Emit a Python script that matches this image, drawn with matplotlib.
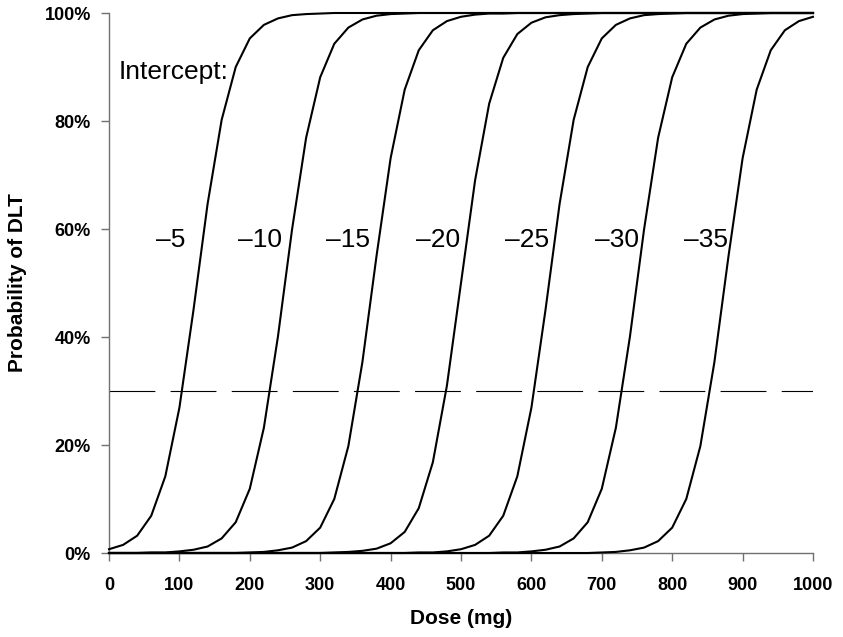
import matplotlib
matplotlib.use("Agg")
import matplotlib.pyplot as plt

plt.rcParams['font.family'] = ['Liberation Sans', 'DejaVu Sans']
plt.rcParams['lines.scale_dashes'] = False

# ---- data -------------------------------------------------------------
doses = [0, 20, 40, 60, 80, 100, 120, 140, 160, 180, 200, 220, 240, 260, 280,
         300, 320, 340, 360, 380, 400, 420, 440, 460, 480, 500, 520, 540, 560,
         580, 600, 620, 640, 660, 680, 700, 720, 740, 760, 780, 800, 820, 840,
         860, 880, 900, 920, 940, 960, 980, 1000]

intercept_labels = ["\u20135", "\u201310", "\u201315", "\u201320", "\u201325", "\u201330", "\u201335"]

p_m5 = [0.7, 1.5, 3.2, 6.9, 14.2, 26.9, 45.0, 64.6, 80.2, 90.0, 95.3, 97.8, 99.0,
        99.6, 99.8, 99.9, 100, 100, 100, 100, 100, 100, 100, 100, 100, 100, 100,
        100, 100, 100, 100, 100, 100, 100, 100, 100, 100, 100, 100, 100, 100, 100,
        100, 100, 100, 100, 100, 100, 100, 100, 100]
p_m10 = [0, 0, 0, 0.1, 0.1, 0.3, 0.6, 1.2, 2.7, 5.7, 11.9, 23.2, 40.1, 59.9, 76.9,
         88.1, 94.3, 97.3, 98.8, 99.5, 99.8, 99.9, 100, 100, 100, 100, 100, 100,
         100, 100, 100, 100, 100, 100, 100, 100, 100, 100, 100, 100, 100, 100,
         100, 100, 100, 100, 100, 100, 100, 100, 100]
p_m15 = [0, 0, 0, 0, 0, 0, 0, 0, 0, 0, 0.1, 0.2, 0.5, 1.0, 2.2, 4.7, 10.0, 19.8,
         35.4, 55.0, 73.1, 85.8, 93.1, 96.8, 98.5, 99.3, 99.7, 99.9, 99.9, 100,
         100, 100, 100, 100, 100, 100, 100, 100, 100, 100, 100, 100, 100, 100,
         100, 100, 100, 100, 100, 100, 100]
p_m20 = [0, 0, 0, 0, 0, 0, 0, 0, 0, 0, 0, 0, 0, 0, 0, 0, 0.1, 0.2, 0.4, 0.8, 1.8,
         3.9, 8.3, 16.8, 31.0, 50.0, 69.0, 83.2, 91.7, 96.1, 98.2, 99.2, 99.6,
         99.8, 99.9, 100, 100, 100, 100, 100, 100, 100, 100, 100, 100, 100, 100,
         100, 100, 100, 100]
p_m25 = [0, 0, 0, 0, 0, 0, 0, 0, 0, 0, 0, 0, 0, 0, 0, 0, 0, 0, 0, 0, 0, 0, 0.1,
         0.1, 0.3, 0.7, 1.5, 3.2, 6.9, 14.2, 26.9, 45.0, 64.6, 80.2, 90.0, 95.3,
         97.8, 99.0, 99.6, 99.8, 99.9, 100, 100, 100, 100, 100, 100, 100, 100,
         100, 100]
p_m30 = [0, 0, 0, 0, 0, 0, 0, 0, 0, 0, 0, 0, 0, 0, 0, 0, 0, 0, 0, 0, 0, 0, 0, 0,
         0, 0, 0, 0, 0.1, 0.1, 0.3, 0.6, 1.2, 2.7, 5.7, 11.9, 23.2, 40.1, 59.9,
         76.9, 88.1, 94.3, 97.3, 98.8, 99.5, 99.8, 99.9, 100, 100, 100, 100]
p_m35 = [0, 0, 0, 0, 0, 0, 0, 0, 0, 0, 0, 0, 0, 0, 0, 0, 0, 0, 0, 0, 0, 0, 0, 0,
         0, 0, 0, 0, 0, 0, 0, 0, 0, 0, 0, 0.1, 0.2, 0.5, 1.0, 2.2, 4.7, 10.0, 19.8,
         35.4, 55.0, 73.1, 85.8, 93.1, 96.8, 98.5, 99.3]

curves = [p_m5, p_m10, p_m15, p_m20, p_m25, p_m30, p_m35]

target_level = 30  # % reference line

x_ticks = [0, 100, 200, 300, 400, 500, 600, 700, 800, 900, 1000]
y_ticks = [0, 20, 40, 60, 80, 100]
y_tick_labels = ["0%", "20%", "40%", "60%", "80%", "100%"]

# label placement (dose, %)
label_x = [88, 214, 340, 467, 594, 722, 848]
label_y = 58

# ---- figure -----------------------------------------------------------
fig = plt.figure(figsize=(8.43, 6.37), dpi=100)
ax = fig.add_axes([109 / 843, 1 - 553 / 637, 704 / 843, 540 / 637])

for ys in curves:
    ax.plot(doses, ys, color='black', lw=1.5, clip_on=False, zorder=3)

ax.plot([doses[0], doses[-1]], [target_level, target_level], color='black',
        lw=0.8, dashes=(33, 11), zorder=2)

for lx, lab in zip(label_x, intercept_labels):
    ax.text(lx, label_y, lab, fontsize=19, ha='center', va='center', color='black')

ax.text(13, 87.8, "Intercept:", fontsize=19, ha='left', va='baseline', color='black')

ax.set_xlim(0, 1000)
ax.set_ylim(0, 100)
ax.set_xticks(x_ticks)
ax.set_xticklabels([str(t) for t in x_ticks], fontsize=13, fontweight='bold')
ax.set_yticks(y_ticks)
ax.set_yticklabels(y_tick_labels, fontsize=13, fontweight='bold')

for s in ['top', 'right']:
    ax.spines[s].set_visible(False)
for s in ['left', 'bottom']:
    ax.spines[s].set_color('#707070')
    ax.spines[s].set_linewidth(1.0)

ax.tick_params(axis='x', direction='out', length=6, width=1.0, color='#707070', pad=11)
ax.tick_params(axis='y', direction='out', length=6, width=1.0, color='#707070', pad=7)

ax.set_xlabel("Dose (mg)", fontsize=15, fontweight='bold', labelpad=11)
ax.set_ylabel("Probability of DLT", fontsize=15, fontweight='bold', labelpad=13)

fig.savefig("out.png", dpi=100)
